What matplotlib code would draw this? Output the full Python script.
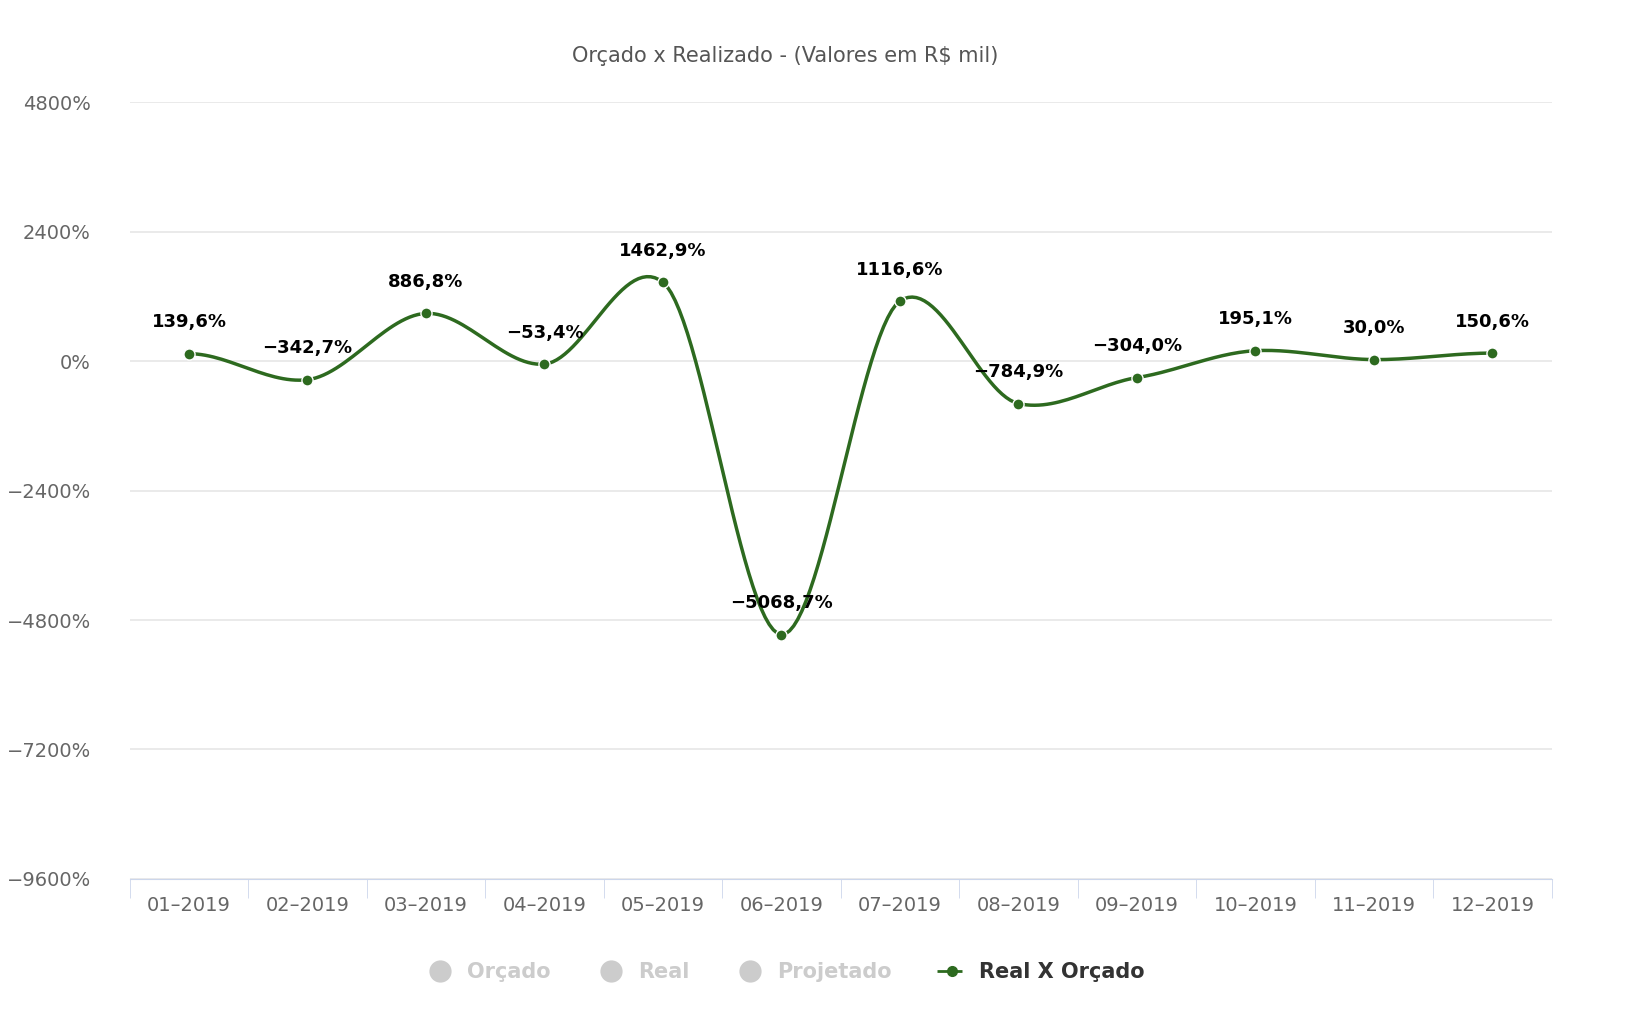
import numpy as np
import matplotlib.pyplot as plt
from matplotlib.lines import Line2D

months = ['01-2019', '02-2019', '03-2019', '04-2019', '05-2019', '06-2019',
          '07-2019', '08-2019', '09-2019', '10-2019', '11-2019', '12-2019']
real_x_orcado = [139.6, -342.7, 886.8, -53.4, 1462.9, -5068.7,
                 1116.6, -784.9, -304.0, 195.1, 30.0, 150.6]
yticks = [4800, 2400, 0, -2400, -4800, -7200, -9600]

green = '#2d6a1f'
grey = '#666666'


def spline(x, y, n=30, k=0.35):
    # smoothed curve between points, reduced tension like a Highcharts spline
    x = np.asarray(x, float)
    y = np.asarray(y, float)
    m = np.zeros_like(y)
    m[1:-1] = (y[2:] - y[:-2]) / 2
    m *= 2 * k
    xs, ys = [], []
    for i in range(len(x) - 1):
        t = np.linspace(0, 1, n)
        h00 = 2 * t**3 - 3 * t**2 + 1
        h10 = t**3 - 2 * t**2 + t
        h01 = -2 * t**3 + 3 * t**2
        h11 = t**3 - t**2
        yy = h00 * y[i] + h10 * m[i] + h01 * y[i + 1] + h11 * m[i + 1]
        xs.append(x[i] + t)
        ys.append(yy)
    return np.concatenate(xs), np.concatenate(ys)


fig = plt.figure(figsize=(16.42, 10.34), dpi=100)
ax = fig.add_axes([0.079, 0.150, 0.866, 0.751])

x = np.arange(len(months))
sx, sy = spline(x, real_x_orcado)
ax.plot(sx, sy, color=green, lw=2.5, zorder=3)
ax.plot(x, real_x_orcado, 'o', color=green, ms=8, mec='white', mew=1, zorder=4)

for xi, v in zip(x, real_x_orcado):
    lbl = f'{v:.1f}%'.replace('.', ',').replace('-', '−')
    ax.annotate(lbl, (xi, v), xytext=(0, 16), textcoords='offset points',
                ha='center', va='bottom', fontsize=13, fontweight='bold', color='black')

ax.set_xlim(-0.5, len(months) - 0.5)
ax.set_ylim(-9600, 4800)
ax.set_yticks(yticks)
ax.set_yticklabels([f'{t}%'.replace('-', '−') for t in yticks])
ax.set_xticks(x)
ax.set_xticklabels([m.replace('-', '–') for m in months])
ax.set_xticks(np.arange(-0.5, len(months)), minor=True)
ax.tick_params(axis='x', which='major', length=0, pad=12, labelsize=14, labelcolor=grey)
ax.tick_params(axis='x', which='minor', length=14, color='#ccd6eb')
ax.tick_params(axis='y', length=0, pad=28, labelsize=14, labelcolor=grey)

ax.grid(axis='y', color='#e6e6e6', lw=1.2)
ax.set_axisbelow(True)
for s in ['top', 'right', 'left']:
    ax.spines[s].set_visible(False)
ax.spines['bottom'].set_color('#ccd6eb')

fig.text(0.478, 0.94, 'Orçado x Realizado - (Valores em R$ mil)', ha='center',
         fontsize=15, color='#555555')

handles = [
    Line2D([], [], ls='none', marker='o', ms=15, color='#cccccc'),
    Line2D([], [], ls='none', marker='o', ms=15, color='#cccccc'),
    Line2D([], [], ls='none', marker='o', ms=15, color='#cccccc'),
    Line2D([], [], ls='--', marker='o', ms=7, color=green, lw=2),
]
leg = fig.legend(handles, ['Orçado', 'Real', 'Projetado', 'Real X Orçado'],
                 loc='center', bbox_to_anchor=(0.478, 0.06), ncol=4, frameon=False,
                 prop={'size': 15, 'weight': 'bold'}, handlelength=1.4,
                 columnspacing=2.2, handletextpad=0.6)
for t, c in zip(leg.get_texts(), ['#cccccc', '#cccccc', '#cccccc', '#333333']):
    t.set_color(c)

fig.savefig('out.png', dpi=100)
